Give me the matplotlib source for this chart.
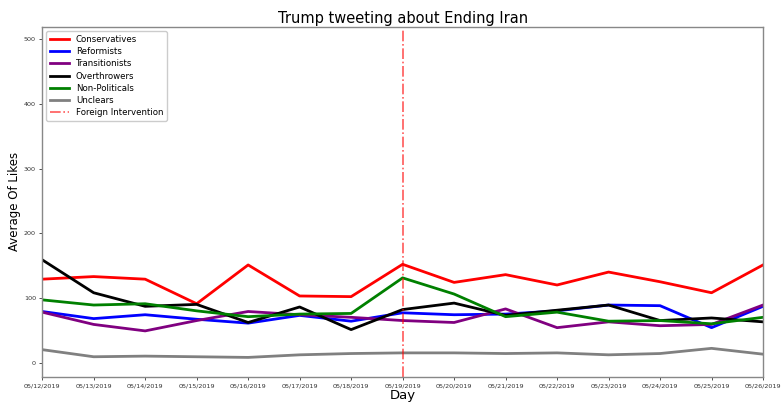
import matplotlib
matplotlib.use("Agg")
import matplotlib.pyplot as plt

days = ["05/12/2019", "05/13/2019", "05/14/2019", "05/15/2019", "05/16/2019",
        "05/17/2019", "05/18/2019", "05/19/2019", "05/20/2019", "05/21/2019",
        "05/22/2019", "05/23/2019", "05/24/2019", "05/25/2019", "05/26/2019"]

conservatives = [129, 133, 129, 91, 151, 103, 102, 152, 124, 136, 120, 140, 125, 108, 151]
reformists = [79, 68, 74, 67, 61, 73, 64, 77, 74, 75, 80, 89, 88, 54, 87]
transitionists = [78, 59, 49, 65, 79, 74, 70, 65, 62, 83, 54, 63, 57, 59, 89]
overthrowers = [159, 108, 87, 90, 62, 86, 51, 82, 92, 73, 81, 89, 65, 69, 63]
non_politicals = [97, 89, 91, 80, 71, 75, 76, 131, 106, 71, 78, 64, 65, 60, 70]
unclears = [20, 9, 10, 9, 8, 12, 14, 15, 15, 14, 15, 12, 14, 22, 13]
intervention_day = "05/19/2019"

fig = plt.figure(figsize=(7.81, 4.03), dpi=100)
ax = fig.add_axes([0.054, 0.065, 0.923, 0.868])

x = list(range(len(days)))
lw = 2
ax.plot(x, conservatives, color="red", lw=lw, label="Conservatives")
ax.plot(x, reformists, color="blue", lw=lw, label="Reformists")
ax.plot(x, transitionists, color="purple", lw=lw, label="Transitionists")
ax.plot(x, overthrowers, color="black", lw=lw, label="Overthrowers")
ax.plot(x, non_politicals, color="green", lw=lw, label="Non-Politicals")
ax.plot(x, unclears, color="gray", lw=lw, label="Unclears")
ax.axvline(days.index(intervention_day), color="red", ls="-.", lw=1.2, alpha=0.65,
           label="Foreign Intervention")

ax.set_xticks(x)
ax.set_xticklabels(days, fontsize=4.6)
ax.set_xlim(0, len(days) - 1)
ax.set_ylim(-22, 519)
ax.set_yticks([0, 100, 200, 300, 400, 500])
ax.tick_params(axis="y", labelsize=4.6)
ax.tick_params(length=2.5, width=0.6, pad=2, colors="#333333")
for s in ax.spines.values():
    s.set_color("#888888")
    s.set_linewidth(1)

ax.set_title("Trump tweeting about Ending Iran", fontsize=10.5, pad=3)
ax.set_xlabel("Day", fontsize=9.5, labelpad=1)
ax.set_ylabel("Average Of Likes", fontsize=8.5, labelpad=2)
ax.legend(loc="upper left", fontsize=6.2, handlelength=2.2, borderpad=0.4,
          labelspacing=0.38, framealpha=1)

fig.savefig("out.png", dpi=100)
